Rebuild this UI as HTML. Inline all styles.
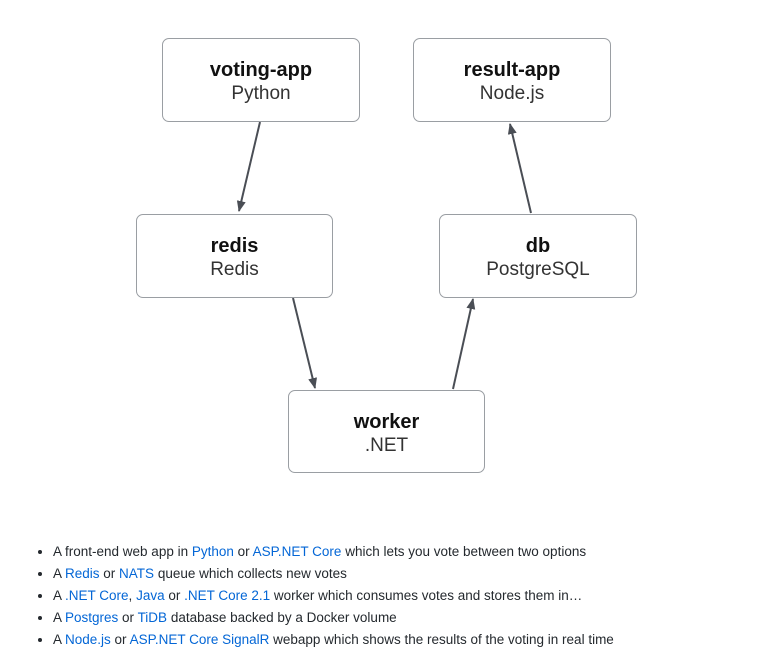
<!DOCTYPE html>
<html><head><style>
body{margin:0;width:758px;height:656px;background:#fff;position:relative;overflow:hidden;font-family:"Liberation Sans",sans-serif}
.b{position:absolute;box-sizing:border-box;border:1.5px solid #9a9ea3;border-radius:7px;text-align:center;color:#111}
.b .t{font-weight:bold;font-size:20px;margin-top:19px;line-height:24px}
.b .s{font-size:19px;color:#333;line-height:24px}
ul{position:absolute;left:34px;top:541px;margin:0;padding:0 0 0 19px;font-size:13.5px;color:#24292e;line-height:22px}
a{color:#0366d6;text-decoration:none}
</style></head><body>
<svg width="758" height="656" style="position:absolute;left:0;top:0">
<defs><marker id="m" markerWidth="12" markerHeight="12" refX="10" refY="6" orient="auto" markerUnits="userSpaceOnUse"><path d="M0,1.5 L11,6 L0,10.5 z" fill="#4a4e55"/></marker></defs>
<g stroke="#4a4e55" stroke-width="2" marker-end="url(#m)">
<line x1="260" y1="122" x2="239" y2="211"/>
<line x1="293" y1="298" x2="315" y2="388"/>
<line x1="453" y1="389" x2="473" y2="299"/>
<line x1="531" y1="213" x2="510" y2="124"/>
</g></svg>
<div class="b" style="left:162px;top:38px;width:198px;height:84px"><div class="t">voting-app</div><div class="s">Python</div></div>
<div class="b" style="left:413px;top:38px;width:198px;height:84px"><div class="t">result-app</div><div class="s">Node.js</div></div>
<div class="b" style="left:136px;top:214px;width:197px;height:84px"><div class="t">redis</div><div class="s">Redis</div></div>
<div class="b" style="left:439px;top:214px;width:198px;height:84px"><div class="t">db</div><div class="s">PostgreSQL</div></div>
<div class="b" style="left:288px;top:390px;width:197px;height:83px"><div class="t">worker</div><div class="s">.NET</div></div>
<ul>
<li>A front-end web app in <a>Python</a> or <a>ASP.NET Core</a> which lets you vote between two options</li>
<li>A <a>Redis</a> or <a>NATS</a> queue which collects new votes</li>
<li>A <a>.NET Core</a>, <a>Java</a> or <a>.NET Core 2.1</a> worker which consumes votes and stores them in…</li>
<li>A <a>Postgres</a> or <a>TiDB</a> database backed by a Docker volume</li>
<li>A <a>Node.js</a> or <a>ASP.NET Core SignalR</a> webapp which shows the results of the voting in real time</li>
</ul>
</body></html>
